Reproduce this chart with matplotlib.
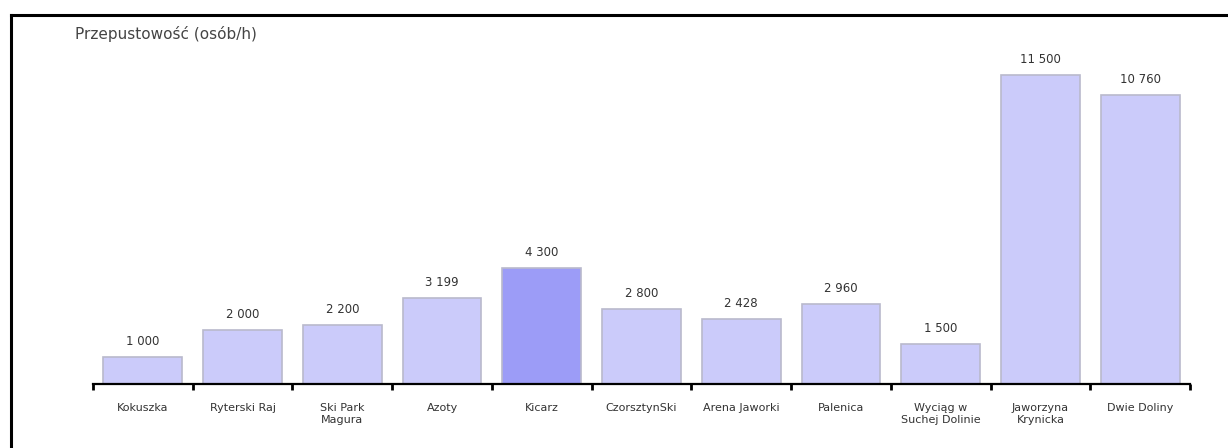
import numpy as np
import matplotlib
matplotlib.use("Agg")
import matplotlib.pyplot as plt
from matplotlib.lines import Line2D

# data
names = ["Kokuszka", "Ryterski Raj", "Ski Park\nMagura", "Azoty", "Kicarz",
         "CzorsztynSki", "Arena Jaworki", "Palenica", "Wyciąg w\nSuchej Dolinie",
         "Jaworzyna\nKrynicka", "Dwie Doliny"]
values = [1000, 2000, 2200, 3199, 4300, 2800, 2428, 2960, 1500, 11500, 10760]
labels = ["1 000", "2 000", "2 200", "3 199", "4 300", "2 800", "2 428", "2 960",
          "1 500", "11 500", "10 760"]
highlight = 4

plt.rcParams['font.family'] = ['DejaVu Sans']

fig = plt.figure(figsize=(12.28, 4.48), dpi=100)
ax = fig.add_axes([93 / 1228, 64 / 448, 1097 / 1228, 339 / 448])

x = np.arange(len(values))
cols = ["#cbcbfa"] * len(values)
cols[highlight] = "#9c9cf7"
ax.bar(x, values, width=0.79, color=cols, edgecolor="#b9b9cc", linewidth=1.2, zorder=2)

for xi, v, lab in zip(x, values, labels):
    ax.text(xi, v + 330, lab, ha="center", va="bottom", fontsize=8.5, color="#333333")

ax.set_xlim(-0.5, len(values) - 0.5)
ax.set_ylim(0, 12600)
ax.set_yticks([])
ax.set_xticks(x)
ax.set_xticklabels(names, fontsize=8, color="#333333", linespacing=1.15)
ax.set_xticks(np.arange(-0.5, len(values)), minor=True)
ax.tick_params(axis="x", which="major", length=0, pad=14)
ax.tick_params(axis="x", which="minor", length=4, width=2, direction="out", color="black")
for s in ["top", "right", "left"]:
    ax.spines[s].set_visible(False)
ax.spines["bottom"].set_linewidth(1.6)

fig.text(75 / 1228, 1 - 34 / 448, "Przepustowość (osób/h)", fontsize=11, color="#444444",
         ha="left", va="center")

# outer frame (top and left edges only visible)
fig.add_artist(Line2D([11 / 1228, 1.0], [1 - 15 / 448, 1 - 15 / 448], color="black", lw=2.2))
fig.add_artist(Line2D([11 / 1228, 11 / 1228], [0, 1 - 15 / 448], color="black", lw=2.2))

fig.savefig("out.png", dpi=100)
